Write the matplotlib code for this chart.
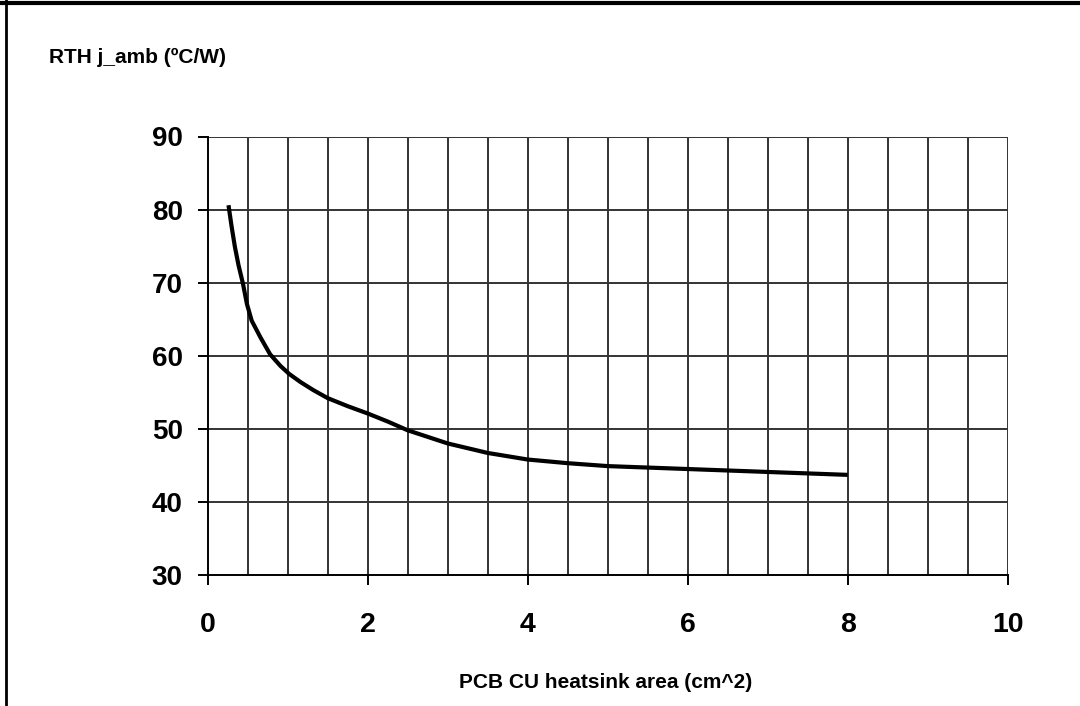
import matplotlib
matplotlib.use("Agg")
import matplotlib.pyplot as plt
from matplotlib.lines import Line2D
import numpy as np

# Data
area_cm2 = [0.26, 0.30, 0.34, 0.385, 0.44, 0.49, 0.55, 0.66, 0.78, 0.91, 1.02, 1.16,
            1.32, 1.5, 1.75, 2.0, 2.25, 2.5, 2.75, 3.0, 3.5, 4.0, 4.5, 5.0, 6.0, 7.0, 8.0]
rth_j_amb = [80.6, 77.6, 74.9, 72.4, 69.9, 67.1, 64.8, 62.5, 60.2, 58.6, 57.5, 56.4,
             55.3, 54.2, 53.1, 52.1, 51.0, 49.8, 48.9, 48.0, 46.7, 45.8, 45.3, 44.9,
             44.5, 44.1, 43.7]
x_ticks = [0, 2, 4, 6, 8, 10]
y_ticks = [30, 40, 50, 60, 70, 80, 90]

plt.rcParams['font.family'] = ['Liberation Sans', 'DejaVu Sans']
plt.rcParams['font.weight'] = 'bold'

fig = plt.figure(figsize=(10.8, 7.06), dpi=100)
ax = fig.add_axes([207.7 / 1080, 1 - 575 / 706, 800 / 1080, (575 - 136.5) / 706])

ax.set_xlim(0, 10)
ax.set_ylim(30, 90)

# grid
for gx in np.arange(0.5, 10.01, 0.5):
    ax.axvline(gx, color='#333333', lw=1.4, zorder=1)
for gy in y_ticks[1:]:
    ax.axhline(gy, color='#333333', lw=1.4, zorder=1)

ax.plot(area_cm2, rth_j_amb, color='black', lw=3, zorder=3,
        solid_capstyle='butt', solid_joinstyle='round')

for s in ['top', 'right']:
    ax.spines[s].set_visible(False)
for s in ['left', 'bottom']:
    ax.spines[s].set_color('black')
    ax.spines[s].set_linewidth(1.4)

ax.set_xticks(x_ticks)
ax.set_yticks(y_ticks)
ax.set_xticklabels([str(v) for v in x_ticks], fontsize=20.5, fontweight='bold')
ax.set_yticklabels([str(v) for v in y_ticks], fontsize=20, fontweight='bold')
ax.tick_params(axis='x', direction='out', length=7, width=1.4, pad=20)
ax.tick_params(axis='y', direction='out', length=7, width=1.4, pad=11)

fig.text(49 / 1080, 1 - 57 / 706, 'RTH j_amb (ºC/W)', fontsize=15, fontweight='bold',
         ha='left', va='center')
fig.text(606 / 1080, 1 - 683 / 706, 'PCB CU heatsink area (cm^2)', fontsize=15,
         fontweight='bold', ha='center', va='center')

# outer frame (top and left edges visible)
fig.add_artist(Line2D([0, 1], [1 - 2.5 / 706, 1 - 2.5 / 706], transform=fig.transFigure,
                      color='black', lw=3))
fig.add_artist(Line2D([6 / 1080, 6 / 1080], [0, 1], transform=fig.transFigure,
                      color='black', lw=2))

fig.savefig('out.png', dpi=100)
